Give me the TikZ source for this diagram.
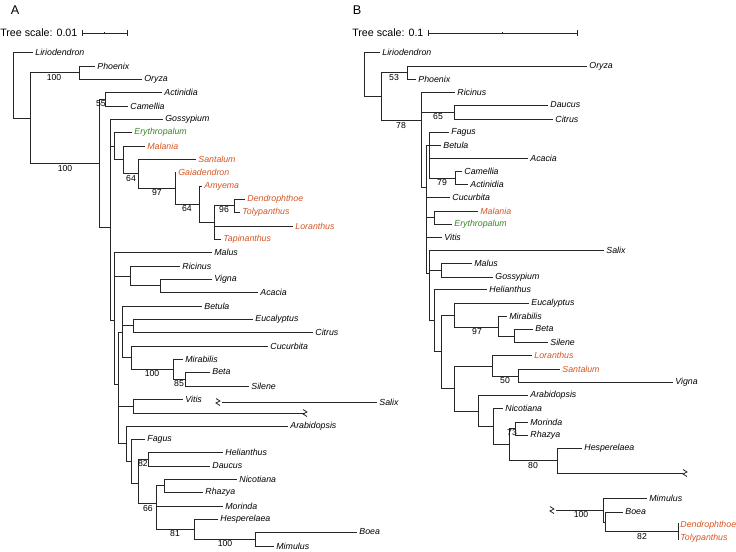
\documentclass[tikz,border=0pt]{standalone}
\usepackage{fontspec}
\setmainfont{Liberation Sans}
\definecolor{lor}{RGB}{214,84,32}
\definecolor{ery}{RGB}{56,132,40}
\tikzset{
  br/.style={draw=black!85, line width=0.6pt},
  lab/.style={font=\fontsize{6.6}{8}\selectfont\itshape, inner sep=1.5pt, anchor=west},
  lorc/.style={text=lor},
  eryc/.style={text=ery},
  bsv/.style={font=\fontsize{6.5}{8}\selectfont, inner sep=0pt},
  ttl/.style={font=\fontsize{8}{10}\selectfont, inner sep=0pt, anchor=west},
  pan/.style={font=\fontsize{9.5}{11}\selectfont, inner sep=0pt}
}
\newcommand\myleaf[6][]{\draw[br] (#3,#5) -- (#4,#5) node[lab,#1] (#2) {#6};}
\newcommand\myv[3]{\draw[br] (#1,#2) -- (#1,#3);}
\newcommand\myh[3]{\draw[br] (#1,#3) -- (#2,#3);}
\newcommand\mysv[3]{\node[bsv] at (#1,#2) {#3};}
\newcommand\mybrk[2]{\draw[br] (#1,#2) ++(-2,-3.5) -- ++(4,2.5) -- ++(-4,2) -- ++(4,2.5);}
\begin{document}
\begin{tikzpicture}[x=0.75pt,y=-0.75pt]
\useasboundingbox (0,0) rectangle (736,551);
% ---------------- Panel A ----------------
\node[pan] (pA) at (15,10) {A};
\node[ttl] (tsA) at (0,33) {Tree scale: 0.01};
\coordinate (sa1) at (82,33); \coordinate (sa2) at (127,33);
\draw[br,line width=0.5pt] (sa1) -- (sa2);
\draw[br,line width=0.5pt] (82,30) -- (82,36) (127,30) -- (127,36) (104.5,32) -- (104.5,34);
% root
\myv{13}{52}{118}
\myleaf{aLir}{13}{33}{52}{Liriodendron}
\myh{13}{30}{118}
\myv{30}{72.5}{163}
\myh{30}{79}{72.5}
\myv{79}{66}{79}
\myleaf{aPho}{79}{95}{66}{Phoenix}
\myleaf{aOry}{79}{142}{79}{Oryza}
\mysv{54}{78}{100}
\myh{30}{99}{163}
\mysv{65}{169}{100}
\myv{99}{99}{227}
\myh{99}{105}{99}
\myv{105}{92}{106}
\myleaf{aAct}{105}{162}{92}{Actinidia}
\myleaf{aCam}{105}{128}{106}{Camellia}
\mysv{101}{104}{55}
\myh{99}{110}{227}
\myv{110}{119}{320}
\myleaf{aGos}{110}{163}{119}{Gossypium}
\myh{110}{114}{146}
\myv{114}{132}{159.75}
\myleaf[eryc]{aEry}{114}{132}{132}{Erythropalum}
\myh{114}{123}{159.75}
\myv{123}{146}{173.5}
\myleaf[lorc]{aMal}{123}{145}{146}{Malania}
\myh{123}{138}{173.5}
\mysv{131}{178.5}{64}
\myv{138}{159}{188}
\myleaf[lorc]{aSan}{138}{196}{159}{Santalum}
\myh{138}{175}{188}
\mysv{157}{192.5}{97}
\myv{175}{172}{204}
\myleaf[lorc]{aGai}{175}{176}{172}{Gaiadendron}
\myh{175}{199}{204}
\mysv{187}{208.5}{64}
\myv{199}{186}{222}
\myleaf[lorc]{aAmy}{199}{202}{186}{Amyema}
\myh{199}{214}{222}
\myv{214}{205.5}{239}
\myh{214}{234}{205.5}
\mysv{224}{210}{96}
\myv{234}{199}{212}
\myleaf[lorc]{aDen}{234}{245}{199}{Dendrophthoe}
\myleaf[lorc]{aTol}{234}{240}{212}{Tolypanthus}
\myleaf[lorc]{aLor}{214}{293}{226}{Loranthus}
\myleaf[lorc]{aTap}{214}{221}{239}{Tapinanthus}
% lower part of A
\myh{110}{114}{320}
\myv{114}{252}{384}
\myleaf{aMalus}{114}{212}{252}{Malus}
\myh{114}{130}{276}
\myv{130}{266}{285.5}
\myleaf{aRic}{130}{180}{266}{Ricinus}
\myh{130}{160}{285.5}
\myv{160}{279}{292}
\myleaf{aVig}{160}{212}{279}{Vigna}
\myleaf{aAca}{160}{258}{292}{Acacia}
\myh{114}{118}{384}
\myv{118}{332}{443.5}
\myh{118}{122}{332}
\myv{122}{306}{357.5}
\myleaf{aBet}{122}{202}{306}{Betula}
\myh{122}{133}{325.5}
\myv{133}{319}{332}
\myleaf{aEuc}{133}{253}{319}{Eucalyptus}
\myleaf{aCit}{133}{313}{332}{Citrus}
\myh{122}{131}{357.5}
\myv{131}{346}{369}
\myleaf{aCuc}{131}{268}{346}{Cucurbita}
\myh{131}{173}{369}
\mysv{152}{374}{100}
\myv{173}{359}{379}
\myleaf{aMir}{173}{183}{359}{Mirabilis}
\myh{173}{185}{379}
\mysv{179}{384}{85}
\myv{185}{372}{386}
\myleaf{aBeta}{185}{210}{372}{Beta}
\myleaf{aSil}{185}{249}{386}{Silene}
\myh{118}{133}{406}
\myv{133}{399}{413}
\myleaf{aVit}{133}{183}{399}{Vitis}
\coordinate (aBr1) at (305,413);
\draw[br] (133,413) -- (aBr1);
\mybrk{305}{413}
\mybrk{218}{402}
\myleaf{aSal}{222}{377}{402}{Salix}
\myh{118}{126}{443.5}
\myv{126}{426}{461}
\myleaf{aAra}{126}{288}{426}{Arabidopsis}
\myh{126}{131}{461}
\myv{131}{439}{483}
\myleaf{aFag}{131}{145}{439}{Fagus}
\myh{131}{138}{483}
\myv{138}{459}{503}
\myh{138}{148}{459}
\mysv{143}{463.5}{82}
\myv{148}{452}{466}
\myleaf{aHel}{148}{223}{452}{Helianthus}
\myleaf{aDau}{148}{210}{466}{Daucus}
\myh{138}{156}{503}
\mysv{148}{508.5}{66}
\myv{156}{485.5}{529}
\myh{156}{164}{485.5}
\myv{164}{479}{492}
\myleaf{aNic}{164}{237}{479}{Nicotiana}
\myleaf{aRha}{164}{203}{492}{Rhazya}
\myleaf{aMor}{156}{223}{506}{Morinda}
\myh{156}{194}{529}
\mysv{175}{534}{81}
\myv{194}{519}{539}
\myleaf{aHes}{194}{218}{519}{Hesperelaea}
\myh{194}{255}{539}
\mysv{225}{544}{100}
\myv{255}{532}{546}
\myleaf{aBoea}{255}{357}{532}{Boea}
\myleaf{aMim}{255}{274}{546}{Mimulus}
% ---------------- Panel B ----------------
\node[pan] (pB) at (357,10) {B};
\node[ttl] (tsB) at (352,33) {Tree scale: 0.1};
\coordinate (sb1) at (428,33); \coordinate (sb2) at (577,33);
\draw[br,line width=0.5pt] (sb1) -- (sb2);
\draw[br,line width=0.5pt] (428,30) -- (428,36) (577,30) -- (577,36) (502,32) -- (502,34);
\myv{364}{52}{96}
\myleaf{bLir}{364}{380}{52}{Liriodendron}
\myh{364}{381}{96}
\myv{381}{72.5}{120}
\myh{381}{407}{72.5}
\mysv{394}{78}{53}
\myv{407}{66}{79}
\myleaf{bOry}{407}{587}{66}{Oryza}
\myleaf{bPho}{407}{416}{79}{Phoenix}
\myh{381}{421}{120}
\mysv{401}{126}{78}
\myv{421}{92}{187}
\myleaf{bRic}{421}{455}{92}{Ricinus}
\myh{421}{454}{112}
\mysv{438}{117}{65}
\myv{454}{105}{119}
\myleaf{bDau}{454}{548}{105}{Daucus}
\myleaf{bCit}{454}{553}{119}{Citrus}
\myh{421}{426}{187}
\myv{426}{145}{273}
\myh{426}{429}{145}
\myv{429}{132}{178}
\myleaf{bFag}{429}{449}{132}{Fagus}
\myleaf{bBet}{429}{441}{145}{Betula}
\myleaf{bAca}{429}{528}{158}{Acacia}
\myh{429}{455}{178}
\mysv{442}{182.5}{79}
\myv{455}{171}{184}
\myleaf{bCam}{455}{462}{171}{Camellia}
\myleaf{bAct}{455}{468}{184}{Actinidia}
\myleaf{bCuc}{426}{450}{197}{Cucurbita}
\myh{426}{434}{217.5}
\myv{434}{211}{224}
\myleaf[lorc]{bMal}{434}{478}{211}{Malania}
\myleaf[eryc]{bEry}{434}{452}{224}{Erythropalum}
\myleaf{bVit}{426}{442}{237}{Vitis}
\myh{426}{429}{273}
\myv{429}{250}{320}
\myleaf{bSal}{429}{604}{250}{Salix}
\myh{429}{441}{270}
\myv{441}{263}{277}
\myleaf{bMalus}{441}{472}{263}{Malus}
\myleaf{bGos}{441}{493}{277}{Gossypium}
\myh{429}{434}{320}
\myv{434}{289}{351}
\myleaf{bHel}{434}{487}{289}{Helianthus}
\myh{434}{441}{351}
\myv{441}{315}{388}
\myh{441}{454}{315}
\myv{454}{303}{327}
\myleaf{bEuc}{454}{529}{303}{Eucalyptus}
\myh{454}{498}{327}
\mysv{477}{331.5}{97}
\myv{498}{316}{336}
\myleaf{bMir}{498}{507}{316}{Mirabilis}
\myh{498}{514}{336}
\myv{514}{329}{342}
\myleaf{bBeta}{514}{533}{329}{Beta}
\myleaf{bSil}{514}{548}{342}{Silene}
\myh{441}{454}{388}
\myv{454}{366}{411}
\myh{454}{492}{366}
\myv{492}{355}{376}
\myleaf[lorc]{bLor}{492}{532}{355}{Loranthus}
\myh{492}{518}{376}
\mysv{505}{381}{50}
\myv{518}{369}{382}
\myleaf[lorc]{bSan}{518}{560}{369}{Santalum}
\myleaf{bVig}{518}{673}{382}{Vigna}
\myh{454}{478}{411}
\myv{478}{395}{426}
\myleaf{bAra}{478}{528}{395}{Arabidopsis}
\myh{478}{493}{426}
\myv{493}{408}{444}
\myleaf{bNic}{493}{503}{408}{Nicotiana}
\myh{493}{509}{444}
\myv{509}{428.5}{460.5}
\myh{509}{515}{428.5}
\mysv{512}{433}{73}
\myv{515}{422}{435}
\myleaf{bMor}{515}{528}{422}{Morinda}
\myleaf{bRha}{515}{528}{435}{Rhazya}
\myh{509}{557}{460.5}
\mysv{533}{465.5}{80}
\myv{557}{448}{473}
\myleaf{bHes}{557}{582}{448}{Hesperelaea}
\coordinate (bBr1) at (683,473);
\draw[br] (557,473) -- (bBr1);
\mybrk{685}{473}
% detached clade
\mybrk{552}{510}
\myh{556}{603}{510}
\mysv{581}{515}{100}
\myv{603}{498}{522}
\myleaf{bMim}{603}{647}{498}{Mimulus}
\myh{603}{605}{522}
\myv{605}{512}{531.5}
\myleaf{bBoea}{605}{623}{512}{Boea}
\myh{605}{678}{531.5}
\mysv{642}{536.5}{82}
\myv{678}{523}{540}
\myleaf[lorc]{bDen}{678}{678}{525}{Dendrophthoe}
\myleaf[lorc]{bTol}{678}{678}{538}{Tolypanthus}
\end{tikzpicture}
\end{document}
